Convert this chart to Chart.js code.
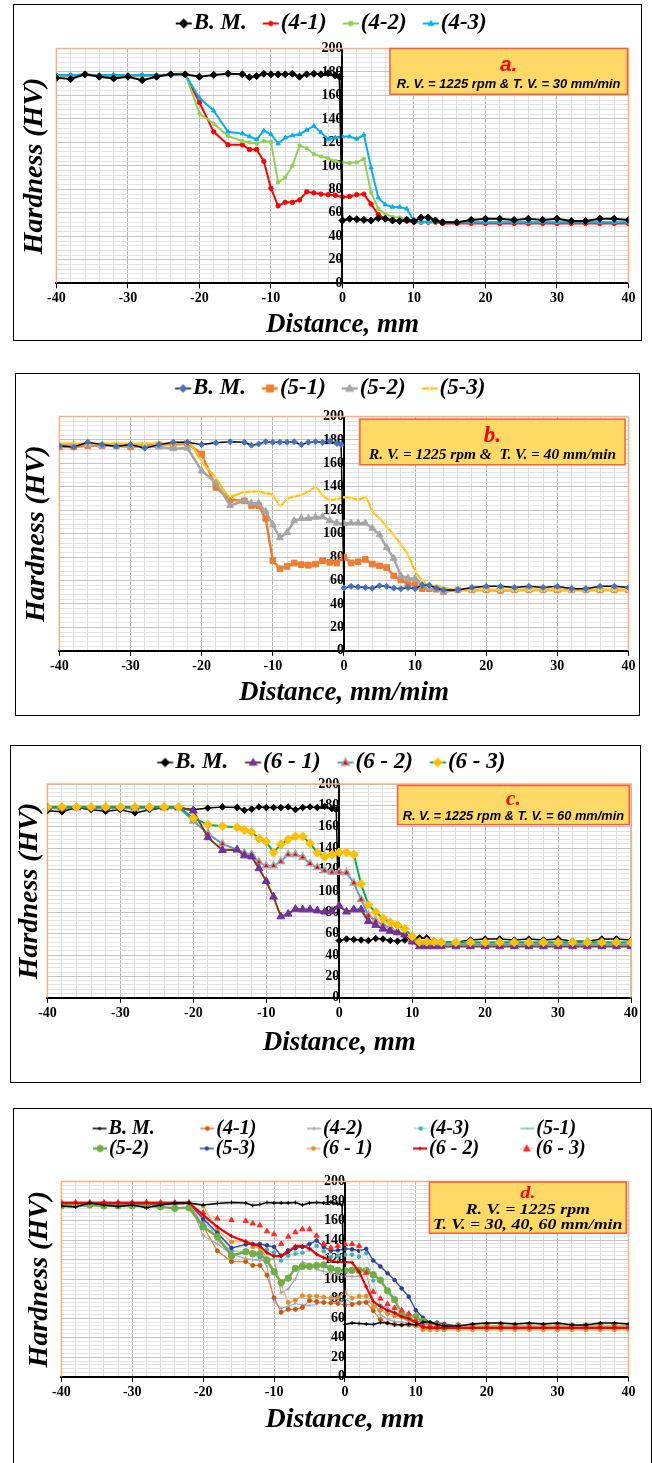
<!DOCTYPE html>
<html>
<head>
<meta charset="utf-8">
<script src="https://cdn.jsdelivr.net/npm/chart.js@4.4.1/dist/chart.umd.min.js"></script>
<style>
  html, body { margin: 0; padding: 0; background: #fff; }
  body { width: 652px; height: 1463px; position: relative; overflow: hidden; }
  .panel { position: absolute; border: 1.5px solid #000; box-sizing: border-box; background: #fff; }
  .panel canvas { position: absolute; left: 0; top: 0; }
</style>
</head>
<body>
<div class="panel" style="left:13px;top:4px;width:629px;height:337px"><canvas id="ca"></canvas></div>
<div class="panel" style="left:15px;top:373px;width:625px;height:343px"><canvas id="cb"></canvas></div>
<div class="panel" style="left:10px;top:745px;width:631px;height:338px"><canvas id="cc"></canvas></div>
<div class="panel" style="left:13px;top:1108px;width:639px;height:375px"><canvas id="cd"></canvas></div>
<script>
// distance of the hardness indents, mm
const distance = [-40, -38, -36, -34, -32, -30, -28, -26, -24, -22,
  -20, -18, -16, -14,
  -13, -12, -11, -10, -9, -8, -7, -6, -5, -4, -3, -2, -1,
  0, 1, 2, 3, 4, 5, 6, 7, 8, 9, 10, 11, 12, 13,
  14, 16, 18, 20, 22, 24, 26, 28, 30, 32, 34, 36, 38, 40];

// base metal
const bmDistance = [-40, -38, -36, -34, -32, -30, -28, -26, -24, -22,
  -20, -18, -16, -14,
  -13, -12, -11, -10, -9, -8, -7, -6, -5, -4, -3, -2, -1, -0.4,
  0, 1, 2, 3, 4, 5, 6, 7, 8, 9, 10, 11, 12, 13,
  14, 16, 18, 20, 22, 24, 26, 28, 30, 32, 34, 36, 38, 40];
const bmHardness = [175, 174, 178, 176, 174.5, 176, 173, 176, 178, 178,
  176, 177.5, 178.5, 178,
  175.5, 176.5, 178.5, 178, 178, 178, 178.5, 176, 178, 178.5, 178, 179, 177, 176,
  53.5, 55, 54.5, 54, 53.5, 55.5, 55, 53.5, 53, 54, 53, 56, 56, 53.5,
  52, 52, 54, 55, 55, 54, 55, 54, 55, 53, 53, 55, 55, 54];

// 30 mm/min
const hv4_1 = [177, 177, 178, 177, 177, 177, 177, 177, 178, 178,
  154, 129, 118, 118,
  114, 114, 104, 81, 66, 69, 69, 71, 78, 77, 76, 75.5, 75,
  73.5, 74, 75.5, 76, 67.5, 58.5, 55, 53.5, 53, 53, 52, 52, 52, 52,
  51, 51, 51, 51, 51, 51, 51, 51, 51, 51, 51, 51, 51, 51];
const hv4_2 = [177, 177, 178, 177, 177, 177, 177, 177, 178, 179,
  144.5, 136, 125.5, 121,
  120, 119, 121, 120.5, 86, 90, 100, 117.5, 115, 110, 108, 106.5, 104,
  103, 102.5, 103, 106, 77.5, 63.5, 59, 56.5, 56, 55, 53, 52, 52, 52,
  52, 52, 52, 52, 52, 52, 52, 52, 52, 52, 52, 52, 52, 52];
const hv4_3 = [177.5, 177.5, 177.5, 177.5, 177.5, 177.5, 177.5, 177.5, 177.5, 178,
  158, 147, 129, 127.5,
  125, 122.5, 130, 127, 119, 124, 126, 127, 130.5, 134, 128.5, 122.5, 124,
  125, 125, 123, 126.5, 98.5, 73, 67, 65, 65, 63.5, 53, 52.5, 52.5, 52.5,
  52, 52, 52, 52, 52, 52, 52, 52, 52, 52, 52, 52, 52, 52];

// 40 mm/min
const hv5_1 = [174, 174, 175, 175, 175, 174, 175, 176, 176, 177,
  168, 139.5, 129, 128,
  124, 124, 113, 77, 70, 72, 75, 73.5, 73, 74, 77, 75.5, 75,
  80, 75, 76, 78, 74, 72.5, 71, 64, 60.5, 57, 56.5, 53, 53, 52.5,
  50.5, 52, 52, 52, 51.5, 52, 52, 52, 52, 52, 52, 52, 52, 52];
const hv5_2 = [175, 176, 176, 175, 175, 175, 175, 174, 172.5, 173,
  153.5, 143.5, 124, 128,
  126, 126, 119, 107.5, 96.5, 101, 111, 113, 113, 114, 114.5, 111, 109,
  108.5, 109, 109, 109, 104.5, 99, 88, 79, 64, 62, 61.5, 56.5, 53.5, 53,
  50.5, 52, 52, 52, 52, 52, 52, 52, 52, 52, 52, 52, 52, 52];
const hv5_3 = [177, 177, 177, 177, 177, 177, 177, 177, 177, 178,
  161.5, 147.5, 132, 135.5,
  136, 136, 134.5, 133, 124, 129.5, 131.5, 133, 136, 139.5, 133, 129, 129.5,
  131, 130.5, 129, 131, 119, 113, 106, 99, 90.5, 82, 68, 60.5, 55.5, 55.5,
  54, 52, 52, 52, 52, 52, 52, 52, 52, 52, 52, 52, 52, 52];

// 60 mm/min
const hv6_1 = [178, 178, 178, 178, 178, 178, 178, 178, 178, 178,
  175, 150, 138, 138.5,
  133, 132, 121, 109, 94.5, 76, 78.5, 83, 82.5, 82.5, 81.5, 80.5, 81,
  86, 80.5, 82.5, 82.5, 71.5, 68, 64.5, 62.5, 61, 59, 52.5, 48, 48, 48,
  48, 48, 48, 48, 48, 48, 48, 48, 48, 48, 48, 48, 48, 48];
const hv6_2 = [178, 178, 178, 178, 178, 178, 178, 178, 178, 178,
  165.5, 153.5, 144, 138.5,
  135.5, 134, 127, 123.5, 123.5, 127.5, 134, 134, 131.5, 125.5, 122, 119, 117.5,
  117.5, 117, 107.5, 92, 77, 72, 68, 65.5, 61.5, 59.5, 55.5, 50.5, 50, 50,
  50, 50, 50, 50, 50, 50, 50, 50, 50, 50, 50, 50, 50, 50];
const hv6_3 = [178.5, 178.5, 178.5, 178.5, 178.5, 178.5, 178.5, 178.5, 178.5, 178.5,
  168, 162, 160.5, 159.5,
  157, 155, 149, 146, 136, 143.5, 148, 151, 151, 144.5, 136, 132, 134,
  136, 136, 134, 106.5, 87, 80, 74.5, 70.5, 68, 64.5, 57.5, 52.5, 52.5, 52.5,
  52, 52, 52, 52, 52, 52, 52, 52, 52, 52, 52, 52, 52, 52];

const xTickLabels = [-40, -30, -20, -10, 0, 10, 20, 30, 40];
const yTickLabels = [0, 20, 40, 60, 80, 100, 120, 140, 160, 180, 200];

const SERIF = '"Liberation Serif", "Times New Roman", serif';
const SANS = '"Liberation Sans", Arial, sans-serif';

function pts(xs, ys) {
  return xs.map((x, i) => ({ x: x, y: ys[i] }));
}

// small marker painter, only used for the legend icons
function marker(g, style, x, y, r) {
  g.beginPath();
  if (style === 'circle') g.arc(x, y, r, 0, Math.PI * 2);
  else if (style === 'rect') g.rect(x - r, y - r, 2 * r, 2 * r);
  else if (style === 'rectRot') { g.moveTo(x, y - r * 1.3); g.lineTo(x + r * 1.3, y); g.lineTo(x, y + r * 1.3); g.lineTo(x - r * 1.3, y); g.closePath(); }
  else if (style === 'triangle') { g.moveTo(x, y - r * 1.2); g.lineTo(x + r * 1.1, y + r * 0.8); g.lineTo(x - r * 1.1, y + r * 0.8); g.closePath(); }
  else if (style === 'cross') { g.moveTo(x, y - r); g.lineTo(x, y + r); g.moveTo(x - r, y); g.lineTo(x + r, y); g.stroke(); return; }
  else if (style === 'crossRot') { g.moveTo(x - r, y - r); g.lineTo(x + r, y + r); g.moveTo(x + r, y - r); g.lineTo(x - r, y + r); g.stroke(); return; }
  g.fill();
  g.stroke();
}

// legend icon: short line with the marker in the middle; pw is the legend box width,
// the picture is shifted so the icon ends just before the label text
function legendIcon(ds, fs, len, pw) {
  const gap = 2;
  const iconEnd = pw + fs / 2 - gap;
  const iconStart = iconEnd - len;
  const half = Math.max(Math.abs(iconStart - pw / 2), Math.abs(iconEnd - pw / 2)) + 2;
  const c = document.createElement('canvas');
  c.width = Math.ceil(half * 2);
  c.height = 16;
  const off = c.width / 2 - pw / 2;
  const g = c.getContext('2d');
  g.strokeStyle = ds.borderColor;
  g.lineWidth = Math.max(1.5, Math.min(ds.borderWidth, 2.5));
  g.beginPath();
  g.moveTo(iconStart + off, 8);
  g.lineTo(iconEnd + off, 8);
  g.stroke();
  g.fillStyle = ds.pointBackgroundColor;
  g.strokeStyle = ds.pointBorderColor;
  g.lineWidth = ds.pointBorderWidth || 1;
  marker(g, ds.pointStyle, (iconStart + iconEnd) / 2 + off, 8, Math.min(ds.pointRadius, 3.5) || 1);
  return c;
}

function series(label, xs, ys, s) {
  return Object.assign({
    label: label,
    data: pts(xs, ys),
    fill: false,
    borderWidth: 2,
    pointBorderWidth: 1,
    tension: 0
  }, s);
}

const framePlugin = {
  id: 'frame',
  beforeDatasetsDraw(chart) {
    const a = chart.chartArea, g = chart.ctx;
    g.save();
    g.strokeStyle = '#F4B183';
    g.lineWidth = 1.5;
    g.beginPath();
    g.moveTo(a.left, a.bottom);
    g.lineTo(a.left, a.top);
    g.lineTo(a.right, a.top);
    g.lineTo(a.right, a.bottom);
    g.stroke();
    g.restore();
  }
};

const notePlugin = {
  id: 'note',
  afterDatasetsDraw(chart, args, o) {
    if (!o || !o.lines) return;
    const a = chart.chartArea, g = chart.ctx;
    const x0 = a.left + o.box[0] * a.width, x1 = a.left + o.box[1] * a.width;
    const y0 = a.top + o.box[2] * a.height, y1 = a.top + o.box[3] * a.height;
    g.save();
    g.fillStyle = '#FFD966';
    g.fillRect(x0, y0, x1 - x0, y1 - y0);
    g.strokeStyle = '#FF5A3C';
    g.lineWidth = 1.5;
    g.strokeRect(x0, y0, x1 - x0, y1 - y0);
    g.textAlign = 'center';
    g.textBaseline = 'middle';
    o.lines.forEach(l => {
      g.save();
      g.font = l.font;
      g.fillStyle = l.color;
      g.translate((x0 + x1) / 2, a.top + l.y * a.height);
      g.scale(l.sx || 1, 1);
      g.fillText(l.text, 0, 0);
      g.restore();
    });
    g.restore();
  }
};

function isMajor(v, list) { return list.includes(Math.round(v * 1000) / 1000); }

function makeChart(id, datasets, cfg) {
  const cv = document.getElementById(id);
  const box = cv.parentNode;
  cv.width = box.clientWidth;
  cv.height = box.clientHeight;
  const fs = cfg.legendSize;
  const legendFont = { family: SERIF, size: fs, style: 'italic', weight: 'bold' };
  const measure = document.createElement('canvas').getContext('2d');
  measure.font = 'italic bold ' + fs + 'px ' + SERIF;
  const icons = datasets.map(ds => legendIcon(ds, fs, cfg.iconLen, cfg.pw));
  const tickFont = { family: SERIF, size: 14, weight: 'bold' };
  const xTitleFont = { family: SERIF, size: cfg.xTitleSize, style: 'italic', weight: 'bold' };
  const yTitleFont = { family: SERIF, size: 28, style: 'italic', weight: 'bold' };

  function padText(text, target) {
    while (measure.measureText(text + ' ').width <= target) text += ' ';
    while (measure.measureText(text + '\u200A').width <= target) text += '\u200A';
    return text;
  }

  return new Chart(cv, {
    type: 'line',
    data: { datasets: datasets },
    plugins: [framePlugin, notePlugin],
    options: {
      responsive: false,
      devicePixelRatio: 1,
      animation: false,
      events: [],
      layout: { padding: cfg.padding },
      plugins: {
        tooltip: { enabled: false },
        legend: {
          position: 'top',
          labels: {
            usePointStyle: true,
            pointStyleWidth: cfg.pw,
            padding: cfg.legendPad,
            color: '#000',
            font: legendFont,
            sort: (a, b) => a.datasetIndex - b.datasetIndex,
            generateLabels(chart) {
              const items = Chart.defaults.plugins.legend.labels.generateLabels(chart);
              return items.map(it => {
                let text = it.text;
                if (cfg.colWidth) {
                  text = padText(text, cfg.colWidth - cfg.legendPad - cfg.pw - fs / 2);
                } else if (it.datasetIndex < datasets.length - 1) {
                  text = padText(text, measure.measureText(text).width + cfg.extraGap);
                }
                return Object.assign(it, { text: text, pointStyle: icons[it.datasetIndex], fontColor: '#000' });
              });
            }
          }
        },
        note: cfg.note
      },
      scales: {
        x: {
          type: 'linear',
          min: -40,
          max: 40,
          ticks: {
            stepSize: 2,
            autoSkip: false,
            maxRotation: 0,
            color: '#000',
            font: tickFont,
            padding: 2,
            callback: v => isMajor(v, xTickLabels) ? String(v) : ''
          },
          grid: {
            color: c => (c.tick && isMajor(c.tick.value, xTickLabels)) ? '#B4B4B4' : '#DDDDDD',
            tickColor: c => (c.tick && isMajor(c.tick.value, xTickLabels)) ? '#000' : 'rgba(0,0,0,0)',
            tickLength: 5
          },
          border: { color: '#000', width: 2 },
          title: { display: true, text: cfg.xTitle, color: '#000', font: xTitleFont, padding: { top: cfg.xTitlePad, bottom: 0 } }
        },
        y: {
          type: 'linear',
          position: { x: 0 },
          min: 0,
          max: 200,
          ticks: {
            stepSize: 4,
            autoSkip: false,
            color: '#000',
            font: tickFont,
            padding: 2,
            callback: v => isMajor(v, yTickLabels) ? String(v) : ''
          },
          grid: {
            color: c => (c.tick && isMajor(c.tick.value, yTickLabels)) ? '#C4C4C4' : '#E2E2E2',
            tickColor: c => (c.tick && isMajor(c.tick.value, yTickLabels)) ? '#000' : 'rgba(0,0,0,0)',
            tickLength: 5
          },
          border: { color: '#000', width: 2 }
        },
        yt: {
          type: 'linear',
          position: 'left',
          min: 0,
          max: 200,
          ticks: { display: false },
          grid: { display: false, drawTicks: false },
          border: { display: false },
          title: { display: true, text: 'Hardness (HV)', color: '#000', font: yTitleFont, padding: cfg.yTitlePad }
        },
        gap: {
          type: 'linear',
          position: 'top',
          display: cfg.gap > 0,
          ticks: { display: false },
          grid: { display: false, drawTicks: false },
          border: { display: false },
          afterFit: s => { s.height = cfg.gap; }
        }
      }
    }
  });
}

// ---- panel a ----
makeChart('ca', [
  series('B. M.', bmDistance, bmHardness, { borderColor: '#000', pointStyle: 'rectRot', pointRadius: 3.5, pointBackgroundColor: '#000', pointBorderColor: '#000', order: 0 }),
  series('(4-1)', distance, hv4_1, { borderColor: '#FF0000', pointStyle: 'circle', pointRadius: 2.2, pointBackgroundColor: '#FF0000', pointBorderColor: '#FF0000', order: 3 }),
  series('(4-2)', distance, hv4_2, { borderColor: '#92D050', pointStyle: 'rect', pointRadius: 2, pointBackgroundColor: '#92D050', pointBorderColor: '#92D050', order: 2 }),
  series('(4-3)', distance, hv4_3, { borderColor: '#00B0F0', pointStyle: 'triangle', pointRadius: 2.5, pointBackgroundColor: '#00B0F0', pointBorderColor: '#00B0F0', order: 1 })
], {
  legendSize: 23, legendPad: 0, pw: 22.5, iconLen: 16, extraGap: 1, gap: 3.5,
  xTitle: 'Distance, mm', xTitleSize: 27, xTitlePad: 0,
  yTitlePad: { top: 0, bottom: 4.8 },
  padding: { top: 7, right: 12.5, bottom: -1.5, left: 4 },
  note: {
    box: [0.583, 0.998, 0.0, 0.195],
    lines: [
      { text: 'a.', font: 'italic bold 21px ' + SANS, color: '#FF0000', y: 0.07 },
      { text: 'R. V. = 1225 rpm & T. V. = 30 mm/min', font: 'italic bold 12px ' + SANS, color: '#000', y: 0.152, sx: 1.08 }
    ]
  }
});

// ---- panel b ----
makeChart('cb', [
  series('B. M.', bmDistance, bmHardness, { borderColor: '#000', borderWidth: 1.5, pointStyle: 'rectRot', pointRadius: 3, pointBackgroundColor: '#4472C4', pointBorderColor: '#4472C4', order: 0 }),
  series('(5-1)', distance, hv5_1, { borderColor: '#ED7D31', borderWidth: 2.5, pointStyle: 'rect', pointRadius: 4, pointBackgroundColor: '#ED7D31', pointBorderColor: '#ED7D31', order: 3 }),
  series('(5-2)', distance, hv5_2, { borderColor: '#A5A5A5', borderWidth: 2.5, pointStyle: 'triangle', pointRadius: 4, pointBackgroundColor: '#A5A5A5', pointBorderColor: '#A5A5A5', order: 2 }),
  series('(5-3)', distance, hv5_3, { borderColor: '#FFC000', borderWidth: 2, pointStyle: 'crossRot', pointRadius: 3.5, pointBackgroundColor: '#FFE699', pointBorderColor: '#FFE08A', cubicInterpolationMode: 'monotone', order: 1 })
], {
  legendSize: 23, legendPad: 0, pw: 18.5, iconLen: 16, extraGap: 5, gap: 6.5,
  xTitle: 'Distance, mm/mim', xTitleSize: 27, xTitlePad: 0,
  yTitlePad: { top: 0, bottom: 5.8 },
  padding: { top: 3, right: 10.5, bottom: 6, left: 4 },
  note: {
    box: [0.528, 0.994, 0.011, 0.206],
    lines: [
      { text: 'b.', font: 'italic bold 23px ' + SERIF, color: '#FF0000', y: 0.083 },
      { text: 'R. V. = 1225 rpm &  T. V. = 40 mm/min', font: 'italic bold 14px ' + SERIF, color: '#000', y: 0.167, sx: 1.1 }
    ]
  }
});

// ---- panel c ----
makeChart('cc', [
  series('B. M.', bmDistance, bmHardness, { borderColor: '#000', borderWidth: 1.5, pointStyle: 'rectRot', pointRadius: 3.2, pointBackgroundColor: '#000', pointBorderColor: '#000', order: 3 }),
  series('(6 - 1)', distance, hv6_1, { borderColor: '#843C0C', pointStyle: 'triangle', pointRadius: 4.5, pointBackgroundColor: '#7030A0', pointBorderColor: '#7030A0', order: 1 }),
  series('(6 - 2)', distance, hv6_2, { borderColor: '#5B9BD5', pointStyle: 'triangle', pointRadius: 4, pointBackgroundColor: '#FF0000', pointBorderColor: '#A5A5A5', pointBorderWidth: 1.5, order: 2 }),
  series('(6 - 3)', distance, hv6_3, { borderColor: '#00B050', pointStyle: 'rectRot', pointRadius: 4.5, pointBackgroundColor: '#FFC000', pointBorderColor: '#FFC000', order: 0 })
], {
  legendSize: 23, legendPad: 0, pw: 21.5, iconLen: 16, extraGap: 2, gap: 0,
  xTitle: 'Distance, mm', xTitleSize: 27, xTitlePad: 3,
  yTitlePad: { top: 0, bottom: 0.8 },
  padding: { top: 5, right: 5.5, bottom: 23, left: 2 },
  note: {
    box: [0.60, 0.997, 0.007, 0.19],
    lines: [
      { text: 'c.', font: 'italic bold 21px ' + SERIF, color: '#FF0000', y: 0.074 },
      { text: 'R. V. = 1225 rpm & T. V. = 60 mm/min', font: 'italic bold 12px ' + SANS, color: '#000', y: 0.151, sx: 1.07 }
    ]
  }
});

// ---- panel d ----
makeChart('cd', [
  series('B. M.', bmDistance, bmHardness, { borderColor: '#000', borderWidth: 1.5, pointStyle: 'cross', pointRadius: 2, pointBackgroundColor: '#000', pointBorderColor: '#000', order: 0 }),
  series('(4-1)', distance, hv4_1, { borderColor: '#ED7D31', borderWidth: 1.2, pointStyle: 'circle', pointRadius: 2, pointBackgroundColor: '#C55A11', pointBorderColor: '#C55A11', order: 8 }),
  series('(4-2)', distance, hv4_2, { borderColor: '#A5A5A5', borderWidth: 1.2, pointStyle: 'cross', pointRadius: 2, pointBackgroundColor: '#A5A5A5', pointBorderColor: '#A5A5A5', order: 7 }),
  series('(4-3)', distance, hv4_3, { borderColor: '#9ED8DA', borderWidth: 1, pointStyle: 'circle', pointRadius: 1.8, pointBackgroundColor: '#3DB0B3', pointBorderColor: '#3DB0B3', order: 6 }),
  series('(5-1)', distance, hv5_1, { borderColor: '#8FAADC', borderWidth: 1.2, pointStyle: 'circle', pointRadius: 0.8, pointBackgroundColor: '#8FAADC', pointBorderColor: '#8FAADC', order: 9 }),
  series('(5-2)', distance, hv5_2, { borderColor: '#70AD47', borderWidth: 2.5, pointStyle: 'circle', pointRadius: 3.2, pointBackgroundColor: '#70AD47', pointBorderColor: '#70AD47', order: 3 }),
  series('(5-3)', distance, hv5_3, { borderColor: '#3E4FA3', borderWidth: 1.5, pointStyle: 'circle', pointRadius: 1.8, pointBackgroundColor: '#2F3F8F', pointBorderColor: '#2F3F8F', order: 4 }),
  series('(6 - 1)', distance, hv6_1, { borderColor: '#F2AE5A', borderWidth: 1.2, pointStyle: 'circle', pointRadius: 2, pointBackgroundColor: '#D9912E', pointBorderColor: '#D9912E', order: 5 }),
  series('(6 - 2)', distance, hv6_2, { borderColor: '#FF0000', borderWidth: 2.2, pointStyle: 'cross', pointRadius: 2, pointBackgroundColor: '#FF0000', pointBorderColor: '#C00000', order: 1 }),
  series('(6 - 3)', distance, hv6_3, { borderColor: '#F8CBAD', borderWidth: 1, pointStyle: 'triangle', pointRadius: 3, pointBackgroundColor: '#FF2A2A', pointBorderColor: '#FF2A2A', order: 2 })
], {
  legendSize: 20, legendPad: 0, pw: 40, iconLen: 14, colWidth: 108, gap: 13,
  xTitle: 'Distance, mm', xTitleSize: 28, xTitlePad: 0.4,
  yTitlePad: { top: 0, bottom: 4.8 },
  padding: { top: 9.5, right: 22.5, bottom: 45.5, left: 9 },
  note: {
    box: [0.649, 0.996, 0.003, 0.265],
    lines: [
      { text: 'd.', font: 'italic bold 17px ' + SERIF, color: '#FF0000', y: 0.063, sx: 1.2 },
      { text: 'R. V. = 1225 rpm', font: 'italic bold 14px ' + SERIF, color: '#000', y: 0.146, sx: 1.28 },
      { text: 'T. V. = 30, 40, 60 mm/min', font: 'italic bold 14px ' + SERIF, color: '#000', y: 0.224, sx: 1.28 }
    ]
  }
});
</script>
</body>
</html>
